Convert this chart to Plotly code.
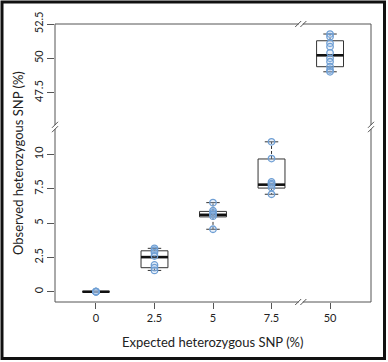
import plotly.graph_objects as go

# ---------------- data ----------------
categories = ["0", "2.5", "5", "7.5", "50"]
positions = [1, 2, 3, 4, 5]

q1 = [0.0, 1.75, 5.45, 7.55, 49.39]
median = [0.0, 2.52, 5.60, 7.80, 50.22]
q3 = [0.0, 2.98, 5.85, 9.67, 51.28]
lower_whisker = [0.0, 1.55, 4.55, 7.10, 49.02]
upper_whisker = [0.0, 3.16, 6.49, 10.92, 51.77]

points_0 = [0.0, 0.0, 0.0, 0.0, 0.0]
points_2_5 = [3.16, 3.02, 2.85, 2.60, 1.95, 1.75, 1.55]
points_5 = [6.49, 5.90, 5.75, 5.62, 5.50, 4.55]
points_7_5 = [10.92, 9.70, 8.00, 7.88, 7.78, 7.60, 7.10]
points_50 = [51.77, 51.57, 51.10, 50.85, 50.40, 50.00, 49.75, 49.40, 49.15, 49.02]
all_points = [points_0, points_2_5, points_5, points_7_5, points_50]

lower_ticks = [0, 2.5, 5, 7.5, 10]
lower_ticktext = ["0", "2.5", "5", "7.5", "10"]
upper_ticks = [47.5, 50, 52.5]
upper_ticktext = ["47.5", "50", "52.5"]

# ---------------- style ----------------
FONT = "Lato"
BOX_W = 0.46
CAP_W = 0.23
BOX_COLOR = "#333333"
FRAME_COLOR = "#555555"
PT_LINE = "#6f9fd4"
PT_FILL = "rgba(170,200,235,0.25)"
SPLIT = 0.6295  # paper fraction where the y axis breaks

fig = go.Figure()

for i, pos in enumerate(positions):
    upper = categories[i] == "50"
    xa, ya = ("x2", "y2") if upper else ("x", "y")
    fig.add_trace(go.Box(
        x=[pos], q1=[q1[i]], median=[median[i]], q3=[q3[i]],
        lowerfence=[q1[i]], upperfence=[q3[i]],
        width=BOX_W, whiskerwidth=0,
        line=dict(color=BOX_COLOR, width=1), fillcolor="rgba(255,255,255,0)",
        boxpoints=False, xaxis=xa, yaxis=ya, showlegend=False, hoverinfo="skip"))
    # dashed whiskers
    fig.add_trace(go.Scatter(
        x=[pos, pos, None, pos, pos],
        y=[q3[i], upper_whisker[i], None, q1[i], lower_whisker[i]],
        mode="lines", line=dict(color=BOX_COLOR, width=1, dash="3px,2px"),
        xaxis=xa, yaxis=ya, showlegend=False, hoverinfo="skip"))
    # caps
    fig.add_trace(go.Scatter(
        x=[pos - CAP_W / 2, pos + CAP_W / 2, None, pos - CAP_W / 2, pos + CAP_W / 2],
        y=[upper_whisker[i], upper_whisker[i], None, lower_whisker[i], lower_whisker[i]],
        mode="lines", line=dict(color=BOX_COLOR, width=1),
        xaxis=xa, yaxis=ya, showlegend=False, hoverinfo="skip"))
    # thick median
    fig.add_trace(go.Scatter(
        x=[pos - BOX_W / 2, pos + BOX_W / 2], y=[median[i], median[i]],
        mode="lines", line=dict(color="#111111", width=2.6),
        xaxis=xa, yaxis=ya, showlegend=False, hoverinfo="skip"))
    # points
    fig.add_trace(go.Scatter(
        x=[pos] * len(all_points[i]), y=all_points[i], mode="markers",
        marker=dict(symbol="circle", size=6.5, color=PT_FILL,
                    line=dict(color=PT_LINE, width=1.3)),
        xaxis=xa, yaxis=ya, showlegend=False, hoverinfo="skip"))

axis_common = dict(showgrid=False, zeroline=False, showline=False,
                   ticks="outside", tickcolor=FRAME_COLOR, tickwidth=1,
                   tickfont=dict(family=FONT, size=11, color="#222"))

fig.update_layout(
    width=388, height=362,
    margin=dict(l=55, r=17, t=24, b=60),
    paper_bgcolor="white", plot_bgcolor="white",
    xaxis=dict(domain=[0, 1], range=[0.3, 5.7], anchor="y",
               tickvals=positions, ticktext=categories, ticklen=6, **axis_common),
    xaxis2=dict(domain=[0, 1], range=[0.3, 5.7], anchor="y2", matches="x",
                visible=False),
    yaxis=dict(domain=[0, SPLIT], range=[-0.75, 12.0], anchor="x",
               tickvals=lower_ticks, ticktext=lower_ticktext, ticklen=7,
               tickangle=-90, **axis_common),
    yaxis2=dict(domain=[SPLIT, 1], range=[45, 52.5], anchor="x2",
                tickvals=upper_ticks, ticktext=upper_ticktext, ticklen=7,
                tickangle=-90, **axis_common),
)

shapes = []
# plot frame
shapes.append(dict(type="rect", xref="paper", yref="paper", x0=0, x1=1, y0=0, y1=1,
                   line=dict(color=FRAME_COLOR, width=1), layer="above"))
# outer picture border
shapes.append(dict(type="rect", xref="paper", yref="paper",
                   xsizemode="pixel", ysizemode="pixel", xanchor=0, yanchor=0,
                   x0=-53, x1=329.5, y0=-56.5, y1=300,
                   line=dict(color="#111111", width=3), layer="above"))


def vbreak(xanchor):
    # break on a vertical frame edge at the y split
    out = [dict(type="rect", xref="paper", yref="paper", xsizemode="pixel",
                ysizemode="pixel", xanchor=xanchor, yanchor=SPLIT,
                x0=-2, x1=2, y0=-2, y1=2, fillcolor="white",
                line=dict(width=0), layer="above")]
    for dy in (-2.2, 2.2):
        out.append(dict(type="line", xref="paper", yref="paper", xsizemode="pixel",
                        ysizemode="pixel", xanchor=xanchor, yanchor=SPLIT,
                        x0=-3, x1=3, y0=dy - 3, y1=dy + 3,
                        line=dict(color=FRAME_COLOR, width=1), layer="above"))
    return out


def hbreak(yanchor):
    # break on a horizontal frame edge between the last two categories
    xpos = (positions[3] + positions[4]) / 2
    out = [dict(type="rect", xref="x", yref="paper", xsizemode="pixel",
                ysizemode="pixel", xanchor=xpos, yanchor=yanchor,
                x0=-2, x1=2, y0=-2, y1=2, fillcolor="white",
                line=dict(width=0), layer="above")]
    for dx in (-2.6, 2.6):
        out.append(dict(type="line", xref="x", yref="paper", xsizemode="pixel",
                        ysizemode="pixel", xanchor=xpos, yanchor=yanchor,
                        x0=dx - 3, x1=dx + 3, y0=-3, y1=3,
                        line=dict(color=FRAME_COLOR, width=1), layer="above"))
    return out


shapes += vbreak(0) + vbreak(1) + hbreak(0) + hbreak(1)
fig.update_layout(shapes=shapes)

fig.add_annotation(text="Expected heterozygous SNP (%)", xref="paper", yref="paper",
                   x=0.5, y=0, yshift=-40, showarrow=False, yanchor="middle",
                   font=dict(family=FONT, size=13, color="#222"))
fig.add_annotation(text="Observed heterozygous SNP (%)", xref="paper", yref="paper",
                   x=0, y=0.5, xshift=-37, showarrow=False, xanchor="center",
                   textangle=-90, font=dict(family=FONT, size=13, color="#222"))

fig.write_html("out.html", config={"displayModeBar": False},
               post_script="document.body.style.margin='0';document.body.style.overflow='hidden';")
